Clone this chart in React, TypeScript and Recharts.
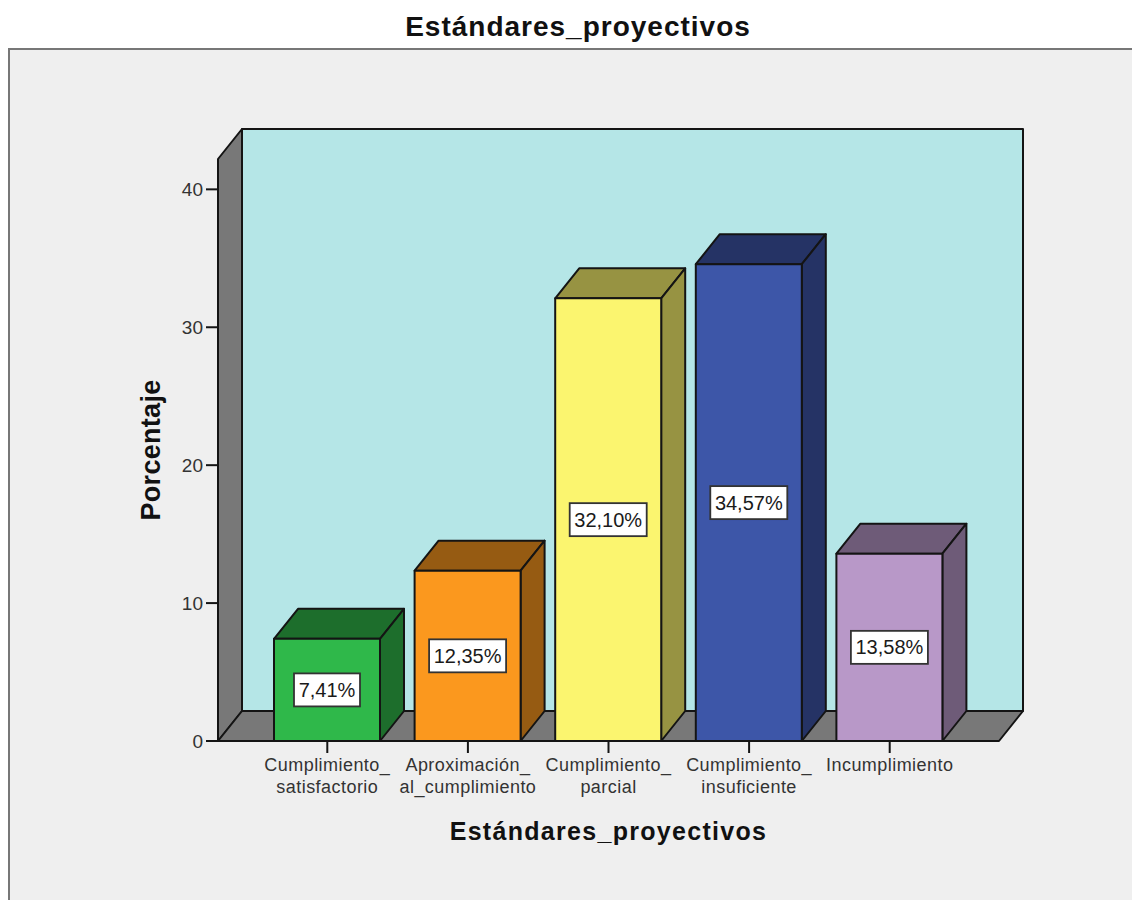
import { Bar, BarChart, LabelList, ReferenceArea, XAxis, YAxis } from "recharts";

const categories = [
  "Cumplimiento_ satisfactorio",
  "Aproximación_ al_cumplimiento",
  "Cumplimiento_ parcial",
  "Cumplimiento_ insuficiente",
  "Incumplimiento",
];
const percentages = [7.41, 12.35, 32.1, 34.57, 13.58];
const valueLabels = ["7,41%", "12,35%", "32,10%", "34,57%", "13,58%"];
const yTicks = [0, 10, 20, 30, 40];
const yMax = 42.2;

const faceColors = ["#2fb84a", "#fb981e", "#fbf56f", "#3d56a8", "#b898c8"];
const sideColors = ["#1d6e2c", "#965b12", "#979342", "#253365", "#6e5b78"];

const data = categories.map((category, i) => ({
  category,
  value: percentages[i],
  label: valueLabels[i],
}));

const DX = 24;
const DY = 30;
const AXIS_PAD = 39;
const INK = "#141414";
const FONT = "'Liberation Sans', Arial, sans-serif";

function Walls({ x: bandX, y, width: bandW, height }: any) {
  // the area starts at the padded band range, the walls run the full plot width
  const x = bandX - AXIS_PAD;
  const width = bandW + AXIS_PAD * 2;
  const bottom = y + height;
  const right = x + width;
  return (
    <g stroke={INK} strokeWidth={2} strokeLinejoin="round">
      <rect x={x + DX} y={y - DY} width={width} height={height} fill="#b5e6e7" />
      <polygon
        points={`${x},${y} ${x + DX},${y - DY} ${x + DX},${bottom - DY} ${x},${bottom}`}
        fill="#787878"
      />
      <polygon
        points={`${x},${bottom} ${x + DX},${bottom - DY} ${right + DX},${bottom - DY} ${right},${bottom}`}
        fill="#787878"
      />
    </g>
  );
}

function Bar3D({ x, y, width, height, index }: any) {
  const right = x + width;
  const bottom = y + height;
  const side = sideColors[index];
  return (
    <g stroke={INK} strokeWidth={2} strokeLinejoin="round">
      <polygon
        points={`${x},${y} ${x + DX},${y - DY} ${right + DX},${y - DY} ${right},${y}`}
        fill={side}
      />
      <polygon
        points={`${right},${y} ${right + DX},${y - DY} ${right + DX},${bottom - DY} ${right},${bottom}`}
        fill={side}
      />
      <rect x={x} y={y} width={width} height={height} fill={faceColors[index]} />
    </g>
  );
}

function ValueBox({ x, y, width, height, value }: any) {
  const text = String(value);
  const boxW = text.length * 11 + 11;
  const boxH = 33;
  const cx = x + width / 2;
  const cy = y + height / 2;
  return (
    <g>
      <rect
        x={cx - boxW / 2}
        y={cy - boxH / 2}
        width={boxW}
        height={boxH}
        fill="#fff"
        stroke="#333"
        strokeWidth={1.8}
      />
      <text x={cx} y={cy + 7} textAnchor="middle" fontSize={20} fontFamily={FONT} fill="#1a1a1a">
        {text}
      </text>
    </g>
  );
}

function CategoryTick({ x, y, payload }: any) {
  const lines = String(payload.value).split(" ");
  return (
    <text textAnchor="middle" fontSize={18} fontFamily={FONT} fill="#333" letterSpacing={0.45}>
      {lines.map((line, i) => (
        <tspan key={i} x={x} y={y + 16 + i * 22}>
          {line}
        </tspan>
      ))}
    </text>
  );
}

export default function App() {
  return (
    <div
      style={{
        position: "absolute",
        left: 0,
        top: 0,
        width: 1132,
        height: 900,
        overflow: "hidden",
        background: "#fff",
      }}
    >
      <div
        style={{
          position: "absolute",
          left: 0,
          top: 7,
          width: 1156,
          textAlign: "center",
          fontFamily: FONT,
          fontWeight: 700,
          fontSize: 28,
          letterSpacing: 1,
          color: "#111",
          lineHeight: "40px",
        }}
      >
        Estándares_proyectivos
      </div>
      <div
        style={{
          position: "absolute",
          left: 8,
          top: 48,
          width: 1124,
          height: 852,
          boxSizing: "border-box",
          background: "#efefef",
          borderLeft: "2px solid #777",
          borderTop: "2px solid #777",
        }}
      />
      <div style={{ position: "absolute", left: 0, top: 0 }}>
        <BarChart
          width={1132}
          height={900}
          data={data}
          barSize={106}
          margin={{ top: 159, right: 133, bottom: 59, left: 158 }}
        >
          <ReferenceArea y1={0} y2={yMax} shape={<Walls />} ifOverflow="visible" />
          <XAxis
            dataKey="category"
            interval={0}
            padding={{ left: AXIS_PAD, right: AXIS_PAD }}
            tickSize={12}
            tickLine={{ stroke: INK, strokeWidth: 2 }}
            axisLine={{ stroke: INK, strokeWidth: 2 }}
            tick={<CategoryTick />}
            height={100}
            label={{
              value: "Estándares_proyectivos",
              position: "insideTop",
              offset: 81,
              fontSize: 25,
              fontWeight: 700,
              fontFamily: FONT,
              fill: "#111",
              letterSpacing: 1.3,
            }}
          />
          <YAxis
            width={60}
            domain={[0, yMax]}
            ticks={yTicks}
            tickSize={12}
            tickMargin={3}
            tickLine={{ stroke: INK, strokeWidth: 2 }}
            axisLine={{ stroke: INK, strokeWidth: 2 }}
            tick={{ fontSize: 19, fontFamily: FONT, fill: "#333" }}
            label={{
              value: "Porcentaje",
              angle: -90,
              position: "insideLeft",
              offset: -8,
              fontSize: 27,
              fontWeight: 700,
              fontFamily: FONT,
              fill: "#111",
              textAnchor: "middle",
              letterSpacing: 0.3,
            }}
          />
          <Bar dataKey="value" shape={<Bar3D />} isAnimationActive={false}>
            <LabelList dataKey="label" content={<ValueBox />} />
          </Bar>
        </BarChart>
      </div>
    </div>
  );
}
